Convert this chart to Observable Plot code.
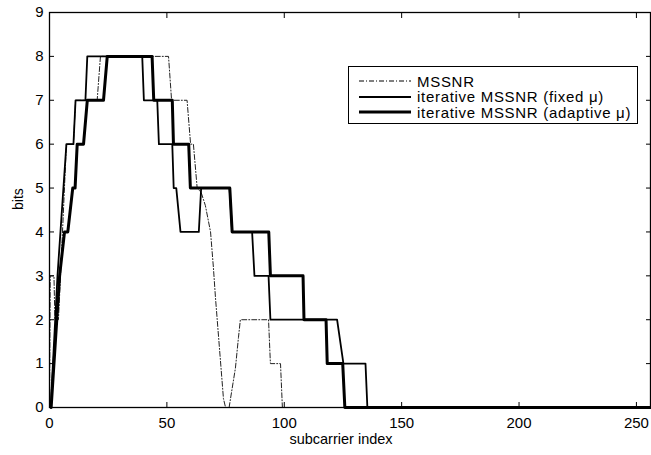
<!DOCTYPE html>
<html>
<head>
<meta charset="utf-8">
<script src="https://cdn.jsdelivr.net/npm/d3@7"></script>
<script src="https://cdn.jsdelivr.net/npm/@observablehq/plot@0.6"></script>
<style>
  body { margin: 0; background: white; font-family: "Liberation Sans", Arial, sans-serif; }
  #wrap { position: relative; width: 651px; height: 455px; }
  #legend { position: absolute; left: 348px; top: 66px; width: 290px; height: 58px; border: 1px solid #000; background: #fff; box-sizing: border-box; font-size: 15px; letter-spacing: 0.7px; }
  .row { position: absolute; left: 8px; height: 16px; display: flex; align-items: center; white-space: nowrap; }
  .row svg { margin-right: 5px; }
</style>
</head>
<body>
<div id="wrap"></div>
<script>
// ---- data (subcarrier index -> bits) ----
const seriesNames = ["MSSNR", "iterative MSSNR (fixed \u03bc)", "iterative MSSNR (adaptive \u03bc)"];

const mssnrX = [0, 0.3, 1.9, 2.3, 3.8, 4.7, 7.2, 10.2, 11.1, 20.3, 21.7, 50.7, 52, 58.6, 60.1, 61.3, 62.9, 64.6, 66.4, 68.6, 69.8, 70.7, 74.1, 75, 76.5, 79.2, 80.5, 81.3, 93.3, 94.1, 98.4, 99.2, 256];
const mssnrY = [0, 3, 3, 2, 2, 3, 6, 6, 7, 7, 8, 8, 7, 7, 6, 6, 5, 4.9, 4.6, 4, 3.2, 2.5, 0.2, 0, 0, 0.9, 1.6, 2, 2, 1, 1, 0, 0];

const fixedX = [0.5, 3.4, 7.2, 10.2, 11.1, 15.3, 16.1, 39.5, 40.2, 45.9, 46.6, 52.3, 52.9, 54, 55.8, 63.6, 64.6, 76.7, 77.8, 86.3, 87.3, 93.3, 94.1, 122.5, 125.2, 134.6, 135.4, 256];
const fixedY = [0, 3, 6, 6, 7, 7, 8, 8, 7, 7, 6, 6, 5, 5, 4, 4, 5, 5, 4, 4, 3, 3, 2, 2, 1, 1, 0, 0];

const adaptX = [0.7, 4.3, 6.4, 7.8, 9.9, 10.9, 11.8, 14.5, 16.1, 23, 24.6, 43.7, 44.4, 52.3, 52.8, 59.3, 60, 76.8, 77.8, 93.4, 94.1, 108, 108.4, 117.8, 118.3, 124.9, 125.8, 256];
const adaptY = [0, 3, 4, 4, 5, 5, 6, 6, 7, 7, 8, 8, 7, 7, 6, 6, 5, 5, 4, 4, 3, 3, 2, 2, 1, 1, 0, 0];

const xTicks = [0, 50, 100, 150, 200, 250];
const yTicks = [0, 1, 2, 3, 4, 5, 6, 7, 8, 9];
const xLabel = "subcarrier index";
const yLabel = "bits";

// ---- build tables ----
const toRows = (xs, ys) => xs.map((x, i) => ({x, y: ys[i]}));
const mssnr = toRows(mssnrX, mssnrY);
const fixed = toRows(fixedX, fixedY);
const adapt = toRows(adaptX, adaptY);

const dash = "5,2,1,2";
const font = "'Liberation Sans', Arial, Helvetica, sans-serif";

const chart = Plot.plot({
  width: 651,
  height: 455,
  marginLeft: 49,
  marginRight: 1,
  marginTop: 12,
  marginBottom: 48,
  style: {fontFamily: font, fontSize: "15px", background: "white", color: "black", overflow: "visible"},
  x: {domain: [0, 256]},
  y: {domain: [0, 9]},
  marks: [
    Plot.line(mssnr, {x: "x", y: "y", stroke: "#222", strokeWidth: 1, strokeDasharray: dash}),
    Plot.line(fixed, {x: "x", y: "y", stroke: "#000", strokeWidth: 1.8}),
    Plot.line(adapt, {x: "x", y: "y", stroke: "#000", strokeWidth: 3}),
    // tick labels
    Plot.axisX({ticks: xTicks, tickSize: 0, tickPadding: 10, label: null, fontSize: 15}),
    Plot.axisY({ticks: yTicks, tickSize: 0, tickPadding: 6, label: null, fontSize: 15}),
    // inward ticks on all four sides
    Plot.axisX({ticks: xTicks, anchor: "bottom", tickSize: -5, tickFormat: () => "", label: null}),
    Plot.axisX({ticks: xTicks, anchor: "top", tickSize: -5, tickFormat: () => "", label: null}),
    Plot.axisY({ticks: yTicks, anchor: "left", tickSize: -5, tickFormat: () => "", label: null}),
    Plot.axisY({ticks: yTicks, anchor: "right", tickSize: -5, tickFormat: () => "", label: null}),
    Plot.frame({stroke: "#000", strokeWidth: 1.3}),
    Plot.text([xLabel], {frameAnchor: "bottom", dy: 36, dx: -9, fontSize: 14.5}),
    Plot.text([yLabel], {frameAnchor: "left", dx: -31, rotate: -90, fontSize: 14})
  ]
});

const wrap = document.getElementById("wrap");
wrap.appendChild(chart);

// ---- legend ----
const legend = document.createElement("div");
legend.id = "legend";
const styles = [
  {w: 1, dash: dash},
  {w: 1.8, dash: null},
  {w: 3, dash: null}
];
seriesNames.forEach((name, i) => {
  const row = document.createElement("div");
  row.className = "row";
  row.style.top = (6 + i * 15.5) + "px";
  const s = styles[i];
  row.innerHTML = `<svg width="55" height="10"><line x1="2" y1="5" x2="54" y2="5" stroke="#000" stroke-width="${s.w}" ${s.dash ? `stroke-dasharray="${s.dash}"` : ""}/></svg><span>${name}</span>`;
  legend.appendChild(row);
});
wrap.appendChild(legend);
</script>
</body>
</html>
